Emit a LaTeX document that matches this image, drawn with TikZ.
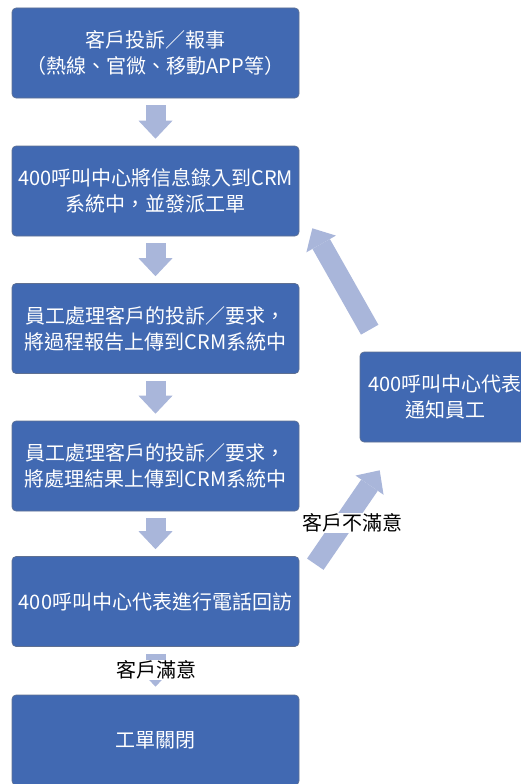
\documentclass[tikz,border=0pt]{standalone}
\usepackage{fontspec}
\setmainfont{Noto Sans CJK TC}
\usetikzlibrary{arrows.meta}
\definecolor{boxblue}{RGB}{65,105,178}
\definecolor{boxedge}{RGB}{95,112,145}
\definecolor{arrowblue}{RGB}{169,182,218}
\begin{document}
\begin{tikzpicture}[x=1pt,y=-1pt,
  stepbox/.style={rectangle, rounded corners=4pt, fill=boxblue, draw=boxedge, line width=0.6pt,
    text=white, minimum width=287pt, minimum height=90pt, align=center,
    font=\fontsize{20}{26}\selectfont, inner sep=0pt},
  sidebox/.style={stepbox, minimum width=170pt},
  blockarrow/.style={draw=arrowblue, line width=20pt,
    -{Triangle[width=34pt,length=18pt,line width=0pt]}},
  downarrow/.style={blockarrow, shorten <=7pt, shorten >=7pt},
  lbl/.style={fill=white, text=black, font=\fontsize{20}{24}\selectfont, inner xsep=0pt, inner ysep=0pt}]
\useasboundingbox (0,0) rectangle (521,784);
\clip (0,0) rectangle (521,784);
\node[stepbox] (b1) at (155.5,53) {客戶投訴／報事\\（熱線、官微、移動APP等）};
\node[stepbox] (b2) at (155.5,191) {400呼叫中心將信息錄入到CRM\\系統中，並發派工單};
\node[stepbox] (b3) at (155.5,328.5) {員工處理客戶的投訴／要求，\\將過程報告上傳到CRM系統中};
\node[stepbox] (b4) at (155.5,466) {員工處理客戶的投訴／要求，\\將處理結果上傳到CRM系統中};
\node[stepbox] (b5) at (155.5,601.5) {400呼叫中心代表進行電話回訪};
\node[stepbox] (b6) at (155.5,740) {工單關閉};
\node[sidebox] (rb) at (445,397) {400呼叫中心代表\\通知員工};
\draw[downarrow] (b1.south) -- (b2.north);
\draw[downarrow] (b2.south) -- (b3.north);
\draw[downarrow] (b3.south) -- (b4.north);
\draw[downarrow] (b4.south) -- (b5.north);
\draw[blockarrow, shorten <=7pt, shorten >=8pt] (b5.south) -- (b6.north);
\draw[blockarrow] ([shift={(10,-22)}]rb.north west) -- ([shift={(13,-8)}]b2.south east);
\draw[blockarrow] ([shift={(16,8)}]b5.north east) -- ([shift={(20,28)}]rb.south west);
\node[lbl, minimum width=165pt, minimum height=20pt] (l1) at (352,523) {客戶不滿意};
\node[lbl, minimum width=150pt, minimum height=20pt] (l2) at (156,670) {客戶滿意};
\end{tikzpicture}
\end{document}
